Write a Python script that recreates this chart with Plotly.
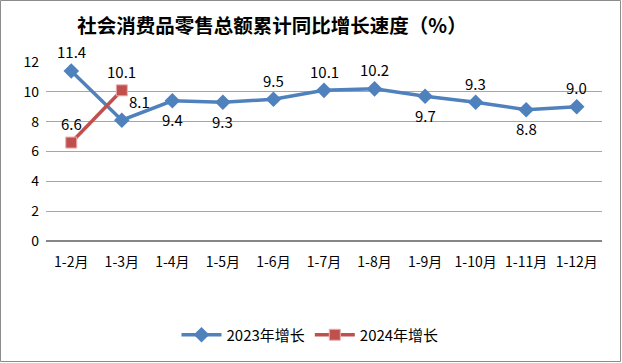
import plotly.graph_objects as go

categories = ["1-2月", "1-3月", "1-4月", "1-5月", "1-6月", "1-7月", "1-8月", "1-9月", "1-10月", "1-11月", "1-12月"]
values_2023 = [11.4, 8.1, 9.4, 9.3, 9.5, 10.1, 10.2, 9.7, 9.3, 8.8, 9.0]
values_2024 = [6.6, 10.1]
label_pos_2023 = ["above", "right", "below", "below", "above", "above", "above", "below", "above", "below", "above"]
label_pos_2024 = ["above", "above"]
y_ticks = [0, 2, 4, 6, 8, 10, 12]

W, H = 622, 363
ml, mr, mt, mb = 46, 20, 62, 122

font_main = "Noto Sans CJK SC, Liberation Sans, sans-serif"

fig = go.Figure()
fig.add_trace(go.Scatter(
    x=categories, y=values_2023, mode="lines+markers", name="2023年增长",
    line=dict(color="#4F81BD", width=3.5),
    marker=dict(symbol="diamond", size=12, color="#4F81BD"),
))
fig.add_trace(go.Scatter(
    x=categories[:len(values_2024)], y=values_2024, mode="lines+markers", name="2024年增长",
    line=dict(color="#C0504D", width=3.5),
    marker=dict(symbol="square", size=11, color="#C0504D", line=dict(color="#E8B0AE", width=1)),
))

annotations = []
def add_labels(vals, poss):
    for c, v, p in zip(categories, vals, poss):
        xs, ys = 0, 0
        if p == "above":
            ys = 19
        elif p == "below":
            ys = -19
        elif p == "right":
            xs, ys = 18, 19
        annotations.append(dict(x=c, y=v, text=f"{v:.1f}", showarrow=False,
                                xshift=xs, yshift=ys,
                                font=dict(size=15, color="#000000", family=font_main)))
add_labels(values_2023, label_pos_2023)
add_labels(values_2024, label_pos_2024)

pw = W - ml - mr
ph = H - mt - mb
fig.update_layout(
    width=W, height=H,
    margin=dict(l=ml, r=mr, t=mt, b=mb),
    paper_bgcolor="white", plot_bgcolor="white",
    title=dict(text="<b>社会消费品零售总额累计同比增长速度（%）</b>", x=272 / W, xanchor="center",
               y=1 - 26 / H, yanchor="middle",
               font=dict(size=19.5, color="#000000", family=font_main)),
    showlegend=True,
    legend=dict(orientation="h", x=(310 - ml) / pw, xanchor="center", y=-(335 - (H - mb)) / ph, yanchor="middle",
                font=dict(size=15, color="#000000", family=font_main), itemwidth=40),
    annotations=annotations,
    shapes=[dict(type="rect", xref="paper", yref="paper",
                 x0=-(ml - 0.5) / pw, x1=1 + (mr - 1.5) / pw,
                 y0=-(mb - 1.5) / ph, y1=1 + (mt - 0.5) / ph,
                 line=dict(color="#8C8C8C", width=1))],
)
fig.update_xaxes(showgrid=False, showline=False, ticks="", tickfont=dict(size=14, color="#000000", family=font_main),
                 range=[-0.5, len(categories) - 0.5], ticklabelstandoff=11)
fig.update_yaxes(range=[0, 12], tickvals=y_ticks, showgrid=True, gridcolor="#A6A6A6", gridwidth=1,
                 zeroline=True, zerolinecolor="#868686", zerolinewidth=1.5,
                 tickfont=dict(size=14, color="#000000", family=font_main), ticklen=0, ticklabelstandoff=6)

fig.write_html("out.html", config={"displayModeBar": False},
               post_script="document.body.style.margin='0';")
